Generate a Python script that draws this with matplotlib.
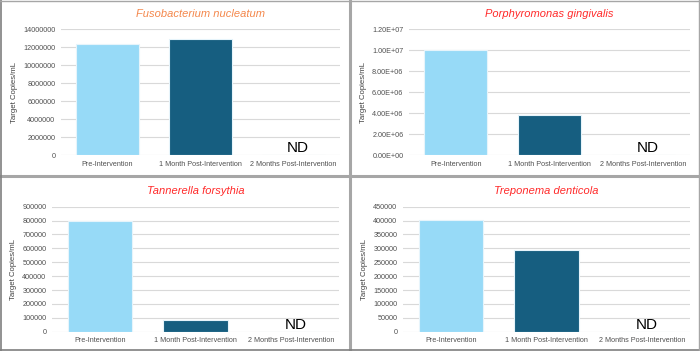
import matplotlib.pyplot as plt
from matplotlib.lines import Line2D
from matplotlib.ticker import FuncFormatter

categories = ['Pre-Intervention', '1 Month Post-Intervention', '2 Months Post-Intervention']

fuso_values = [12350000, 12900000, 0]
porphy_values = [10000000, 3850000, 0]
tanner_values = [800000, 82000, 0]
trepo_values = [402000, 295000, 0]

titles = ['Fusobacterium nucleatum', 'Porphyromonas gingivalis',
          'Tannerella forsythia', 'Treponema denticola']
title_colors = ['#F4874B', '#FF2A2A', '#FF2A2A', '#FF2A2A']
nd_label = 'ND'

bar_colors = ['#97DAF7', '#165E80', '#165E80']

W, H = 700, 351
plt.rcParams['font.family'] = ['Liberation Sans', 'DejaVu Sans']
fig = plt.figure(figsize=(W / 100, H / 100), dpi=100)


def px_axes(x0, x1, ytop, ybot):
    return fig.add_axes([x0 / W, (H - ybot) / H, (x1 - x0) / W, (ybot - ytop) / H])


def sci_fmt(v, pos):
    s = '%.2E' % v
    mant, exp = s.split('E')
    return '%sE%s%s' % (mant, exp[0], exp[1:].lstrip('0').rjust(2, '0'))


def draw_panel(ax, values, title, tcolor, ymax, ystep, sci=False):
    xs = range(len(categories))
    ax.bar(xs, values, width=0.67, color=bar_colors, edgecolor='#E6F4FB',
           linewidth=0.8, zorder=3)
    ax.set_xlim(-0.5, 2.5)
    ax.set_ylim(0, ymax)
    ticks = [i * ystep for i in range(int(round(ymax / ystep)) + 1)]
    ax.set_yticks(ticks)
    if sci:
        ax.yaxis.set_major_formatter(FuncFormatter(sci_fmt))
    else:
        ax.yaxis.set_major_formatter(FuncFormatter(lambda v, p: '%d' % v))
    ax.set_xticks(list(xs))
    ax.set_xticklabels(categories)
    ax.tick_params(length=0, labelsize=5.2, labelcolor='#505050', pad=4)
    ax.grid(axis='y', color='#D9D9D9', linewidth=0.8, zorder=0)
    for s in ax.spines.values():
        s.set_visible(False)
    ax.set_ylabel('Target Copies/mL', fontsize=5.6, color='#404040', labelpad=4)
    ax.set_title(title, fontsize=8, style='italic', color=tcolor, pad=9)
    ax.text(2.05, 0.055, nd_label, transform=ax.get_xaxis_transform(),
            ha='center', va='center', fontsize=11, color='black')


ax1 = px_axes(61, 340, 29.3, 155)
draw_panel(ax1, fuso_values, titles[0], title_colors[0], 14000000, 2000000)
ax2 = px_axes(409, 690, 29.3, 155)
draw_panel(ax2, porphy_values, titles[1], title_colors[1], 12000000, 2000000, sci=True)
ax3 = px_axes(52, 339, 206.7, 331.7)
draw_panel(ax3, tanner_values, titles[2], title_colors[2], 900000, 100000)
ax4 = px_axes(403, 690, 206.7, 331.7)
draw_panel(ax4, trepo_values, titles[3], title_colors[3], 450000, 50000)

# panel separators and outer frame
fig.add_artist(Line2D([349.5 / W] * 2, [0, 1], color='#A6A6A6', linewidth=2.2))
fig.add_artist(Line2D([0, 1], [(H - 175.5) / H] * 2, color='#A6A6A6', linewidth=2.2))
fig.add_artist(Line2D([0.7 / W] * 2, [0, 1], color='#7F7F7F', linewidth=1.2))
fig.add_artist(Line2D([0, 1], [0.7 / H] * 2, color='#7F7F7F', linewidth=1.2))
fig.add_artist(Line2D([1 - 0.7 / W] * 2, [0, 1], color='#A6A6A6', linewidth=1.0))
fig.add_artist(Line2D([0, 1], [1 - 0.7 / H] * 2, color='#A6A6A6', linewidth=1.0))

fig.savefig('out.png', dpi=100)
